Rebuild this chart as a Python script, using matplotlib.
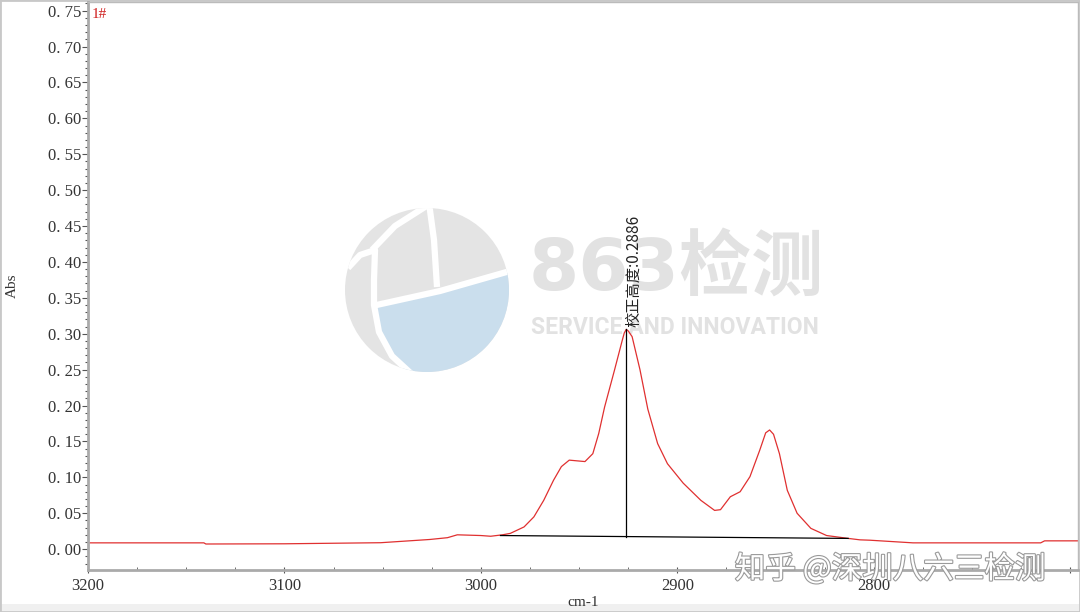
import matplotlib
matplotlib.use('Agg')
import matplotlib.pyplot as plt
import matplotlib.patheffects as pe
from matplotlib.patches import Circle, Polygon, Rectangle
from matplotlib.ticker import MultipleLocator, FuncFormatter

# spectrum (wavenumber cm-1, absorbance)
wavenumber = [3200, 3141, 3140, 3100, 3051, 3026, 3017, 3012, 3000, 2995, 2989, 2985,
              2978, 2973, 2968, 2963, 2959, 2955, 2951, 2947, 2943, 2940, 2937, 2932,
              2928, 2927, 2926, 2925, 2923, 2919, 2915, 2910, 2905, 2897, 2888, 2881, 2878, 2873,
              2868, 2863, 2858, 2855, 2853, 2851, 2848, 2844, 2839, 2832, 2824, 2813, 2807,
              2802, 2780, 2740, 2715, 2713, 2696]
absorb = [0.0088, 0.0088, 0.0072, 0.0075, 0.009, 0.0135, 0.016, 0.020, 0.019, 0.018, 0.020, 0.022,
          0.031, 0.045, 0.068, 0.096, 0.115, 0.124, 0.123, 0.122, 0.133, 0.161, 0.198, 0.249,
          0.291, 0.301, 0.306, 0.304, 0.296, 0.250, 0.195, 0.147, 0.119, 0.092, 0.068, 0.054, 0.055, 0.073,
          0.080, 0.101, 0.138, 0.162, 0.166, 0.160, 0.133, 0.082, 0.050, 0.029, 0.019, 0.015, 0.013,
          0.0125, 0.0088, 0.0088, 0.0088, 0.0116, 0.0116]

base_x = [2990, 2813]
base_y = [0.0190, 0.0150]
peak_x = 2926
peak_y = 0.306
peak_label = '校正高度:0.2886'

plt.rcParams['font.family'] = ['Liberation Serif', 'Noto Sans CJK SC']

fig = plt.figure(figsize=(10.8, 6.12), dpi=100)

# watermark layer in pixel coords
wm = fig.add_axes([0, 0, 1, 1], zorder=0)
wm.set_xlim(0, 1080)
wm.set_ylim(612, 0)
wm.axis('off')
wm.add_patch(Rectangle((0, 604), 1080, 8, color='#f0f0f0', lw=0))
circ = Circle((427, 290), 82, color='#e4e4e4', lw=0)
wm.add_patch(circ)
blue = Polygon([(373, 305), (440, 290), (510, 272), (510, 380), (415, 380), (390, 355), (377, 330)],
               color='#cadeed', lw=0)
wm.add_patch(blue)
blue.set_clip_path(circ)
white_lines = [
    [(372, 306), (440, 291), (510, 271)],
    [(429, 203), (434, 240), (437, 287)],
    [(348, 268), (360, 255), (375, 250), (374, 280), (374, 305), (379, 332), (392, 356), (416, 378)],
    [(372, 250), (395, 226), (428, 205)],
]
for pts in white_lines:
    l, = wm.plot([p[0] for p in pts], [p[1] for p in pts], color='white', lw=4.5,
                 solid_capstyle='butt')
    l.set_clip_path(circ)
wm.text(676, 270, '863检测', fontsize=52, fontweight='bold', color='#e2e2e2',
        ha='center', va='center', family=['DejaVu Sans', 'Noto Sans CJK SC'])
wm.text(675, 328, 'SERVICE AND INNOVATION', fontsize=16.5, fontweight='bold', color='#e2e2e2',
        ha='center', va='center', family='Roboto')

ax = fig.add_axes([88 / 1080, 42 / 612, 990 / 1080, 568 / 612], zorder=1)
ax.set_facecolor('none')
ax.plot(wavenumber, absorb, color='#e03030', lw=0.9)
ax.plot(base_x, base_y, color='black', lw=0.9)
base_at_peak = base_y[0] + (peak_x - base_x[0]) * (base_y[1] - base_y[0]) / (base_x[1] - base_x[0])
ax.plot([peak_x, peak_x], [base_at_peak, peak_y], color='black', lw=0.9)
ax.text(peak_x - 4, peak_y + 0.003, peak_label, rotation=90, ha='center', va='bottom',
        fontsize=11, color='#222222', family=['Noto Sans CJK SC', 'DejaVu Sans'])
ax.text(0.004, 0.99, '1#', transform=ax.transAxes, color='#d02020', fontsize=11,
        ha='left', va='top')

ax.set_xlim(3200, 2696)
ax.set_ylim(-0.029, 0.762)
ax.xaxis.set_major_locator(MultipleLocator(100))
ax.xaxis.set_minor_locator(MultipleLocator(25))
ax.yaxis.set_major_locator(MultipleLocator(0.05))
ax.yaxis.set_minor_locator(MultipleLocator(0.01))
ax.xaxis.set_major_formatter(FuncFormatter(lambda v, p: '%d' % v if v > 2750 else ''))
ax.yaxis.set_major_formatter(FuncFormatter(lambda v, p: ('%.2f' % abs(v)).replace('.', '. ') if v > -0.001 else ''))
ax.tick_params(axis='y', which='major', length=4, width=0.8, color='#555555', labelsize=12, labelcolor='#333333', pad=1)
ax.tick_params(axis='y', which='minor', length=2, width=0.8, color='#555555')
ax.tick_params(axis='x', which='major', length=5, direction='inout', color='#555555', labelsize=12, labelcolor='#333333', pad=3)
ax.tick_params(axis='x', which='minor', length=2, direction='in', color='#555555')
for s in ['left', 'bottom']:
    ax.spines[s].set_color('#aaaaaa')
    ax.spines[s].set_linewidth(2)
for s in ['top', 'right']:
    ax.spines[s].set_color('#bbbbbb')
    ax.spines[s].set_linewidth(1)
ax.set_xlabel('cm-1', fontsize=11, color='#333333', labelpad=2)
ax.set_ylabel('Abs', fontsize=11, color='#333333')
ax.yaxis.set_label_coords(-0.070, 0.5)

fig.text(890 / 1080, 1 - 569 / 612, '知乎 @深圳八六三检测', fontsize=22, color='white',
         ha='center', va='center', zorder=5, family=['Noto Sans CJK SC', 'DejaVu Sans'],
         path_effects=[pe.withStroke(linewidth=1.6, foreground='#9a9a9a')])

fig.add_artist(Rectangle((0, 0), 1, 1, transform=fig.transFigure, fill=False,
                         edgecolor='#c8c8c8', lw=2))
fig.savefig('out.png', dpi=100)
